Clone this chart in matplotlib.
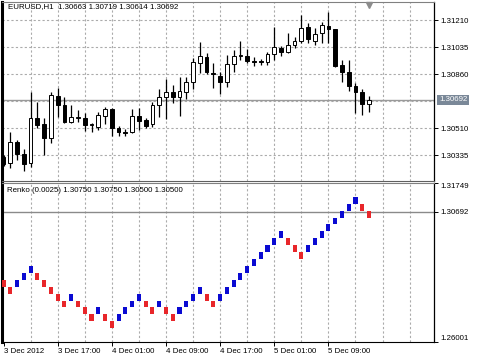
import matplotlib
matplotlib.use('Agg')
import matplotlib.pyplot as plt
import matplotlib.transforms as mtransforms

plt.rcParams['font.family'] = ['Liberation Sans', 'DejaVu Sans']

# EURUSD H1 candles, 3 Dec 09:00 .. 5 Dec 15:00
opens = [1.30322, 1.30283, 1.30419, 1.30342, 1.30283, 1.30575, 1.30536, 1.30445,
         1.30717, 1.30659, 1.30549, 1.30578, 1.30575, 1.30529, 1.30517, 1.30588,
         1.30633, 1.30510, 1.30484, 1.30484, 1.30588, 1.30562, 1.30536, 1.30659,
         1.30711, 1.30743, 1.30711, 1.30743, 1.30808, 1.30931, 1.30970, 1.30867,
         1.30847, 1.30808, 1.30925, 1.30977, 1.30977, 1.30944, 1.30944, 1.30938,
         1.30990, 1.31029, 1.31003, 1.31048, 1.31074, 1.31165, 1.31074, 1.31126,
         1.31171, 1.31152, 1.30918, 1.30873, 1.30782, 1.30743, 1.30663]
highs = [1.30335, 1.30484, 1.30432, 1.30374, 1.30743, 1.30679, 1.30575, 1.30743,
         1.30769, 1.30711, 1.30659, 1.30627, 1.30607, 1.30542, 1.30614, 1.30646,
         1.30640, 1.30523, 1.30504, 1.30633, 1.30640, 1.30575, 1.30679, 1.30763,
         1.30828, 1.30789, 1.30841, 1.30841, 1.30964, 1.31067, 1.30996, 1.30931,
         1.30873, 1.30983, 1.31016, 1.31074, 1.31022, 1.30970, 1.30957, 1.31003,
         1.31165, 1.31041, 1.31126, 1.31100, 1.31242, 1.31191, 1.31158, 1.31197,
         1.31262, 1.31152, 1.30951, 1.30951, 1.30802, 1.30763, 1.30719]
lows = [1.30264, 1.30251, 1.30303, 1.30231, 1.30257, 1.30510, 1.30335, 1.30413,
        1.30581, 1.30545, 1.30545, 1.30549, 1.30491, 1.30484, 1.30497, 1.30536,
        1.30458, 1.30458, 1.30458, 1.30480, 1.30497, 1.30510, 1.30517, 1.30581,
        1.30568, 1.30672, 1.30588, 1.30698, 1.30763, 1.30867, 1.30860, 1.30769,
        1.30730, 1.30776, 1.30873, 1.30951, 1.30931, 1.30912, 1.30918, 1.30918,
        1.30951, 1.30977, 1.30996, 1.31029, 1.31061, 1.31061, 1.31048, 1.31061,
        1.31061, 1.30905, 1.30808, 1.30750, 1.30607, 1.30594, 1.30614]
closes = [1.30277, 1.30419, 1.30342, 1.30277, 1.30575, 1.30529, 1.30445, 1.30724,
          1.30659, 1.30549, 1.30581, 1.30581, 1.30529, 1.30536, 1.30594, 1.30633,
          1.30510, 1.30484, 1.30478, 1.30588, 1.30555, 1.30523, 1.30659, 1.30711,
          1.30743, 1.30711, 1.30750, 1.30808, 1.30938, 1.30977, 1.30873, 1.30860,
          1.30808, 1.30925, 1.30977, 1.30986, 1.30944, 1.30940, 1.30938, 1.30990,
          1.31035, 1.31003, 1.31048, 1.31074, 1.31158, 1.31087, 1.31119, 1.31178,
          1.31152, 1.30912, 1.30873, 1.30782, 1.30743, 1.30663, 1.30692]

# Renko (0.0025) bricks: lower edge of each brick and direction (1 up, 0 down)
brick_size = 0.0025
renko_low = [1.2800, 1.2775, 1.2800, 1.2825, 1.2850, 1.2825, 1.2800, 1.2775,
             1.2750, 1.2725, 1.2750, 1.2725, 1.2700, 1.2675, 1.2700, 1.2675,
             1.2650, 1.2675, 1.2700, 1.2725, 1.2750, 1.2725, 1.2700, 1.2725,
             1.2700, 1.2675, 1.2700, 1.2725, 1.2750, 1.2775, 1.2750, 1.2725,
             1.2750, 1.2775, 1.2800, 1.2825, 1.2850, 1.2875, 1.2900, 1.2925,
             1.2950, 1.2975, 1.2950, 1.2925, 1.2900, 1.2925, 1.2950, 1.2975,
             1.3000, 1.3025, 1.3050, 1.3075, 1.3100, 1.3075, 1.3050]
renko_up = [0, 0, 1, 1, 1, 0, 0, 0, 0, 0, 1, 0, 0, 0, 1, 0, 0, 1, 1, 1, 1, 0,
            0, 1, 0, 0, 1, 1, 1, 1, 0, 0, 1, 1, 1, 1, 1, 1, 1, 1, 1, 1, 0, 0,
            0, 1, 1, 1, 1, 1, 1, 1, 1, 0, 0]

bid = 1.30692
price_ticks = [1.30335, 1.30510, 1.30685, 1.30860, 1.31035, 1.31210]
renko_ticks = [1.31749, 1.30692, 1.26001]
time_labels = ['3 Dec 2012', '3 Dec 17:00', '4 Dec 01:00', '4 Dec 09:00',
               '4 Dec 17:00', '5 Dec 01:00', '5 Dec 09:00']

grid_kw = dict(color='#ababab', linestyle=(0, (2, 2)), linewidth=0.8, zorder=0)
font_size = 5.7

fig = plt.figure(figsize=(4.8, 3.6), dpi=100)
ax1 = fig.add_axes([1.5 / 480, 1 - 181 / 360, 432.5 / 480, 179 / 360])
ax2 = fig.add_axes([1.5 / 480, 1 - 342 / 360, 432.5 / 480, 159 / 360])

n = len(closes)
xs = list(range(n))
for ax in (ax1, ax2):
    ax.set_xlim(-0.3, 63.6)
    for gx in range(4, 64, 4):
        ax.axvline(gx, **grid_kw)
    ax.spines['left'].set_linewidth(2.2)
    ax.spines['left'].set_color('black')
    ax.spines['right'].set_linewidth(0.9)
    ax.spines['top'].set_color('#808080')
    ax.yaxis.tick_right()
    ax.tick_params(axis='y', direction='out', length=3, width=0.7, pad=1.5,
                   labelsize=font_size)

# ---- price panel ----
ax1.set_ylim(1.30167, 1.31327)
for gy in price_ticks:
    ax1.axhline(gy, **grid_kw)
ax1.axhline(bid, color='#9a9a9a', linewidth=1, zorder=1)
ax1.spines['bottom'].set_color('#606060')

ax1.vlines(xs, lows, highs, color='black', linewidth=0.9, zorder=2)
body_low = [min(o, c) for o, c in zip(opens, closes)]
body_h = [max(abs(c - o), 0.00001) for o, c in zip(opens, closes)]
body_col = ['white' if c >= o else 'black' for o, c in zip(opens, closes)]
ax1.bar(xs, body_h, bottom=body_low, width=0.56, color=body_col,
        edgecolor='black', linewidth=0.7, zorder=3)

ax1.set_yticks([t for t in price_ticks if t != 1.30685])
ax1.set_yticklabels(['%.5f' % t for t in price_ticks if t != 1.30685])
ax1.set_xticks([])
ax1.annotate('%.5f' % bid, xy=(1, bid), xycoords=('axes fraction', 'data'),
             xytext=(5, 0), textcoords='offset pixels', va='center', ha='left',
             fontsize=font_size, color='white', annotation_clip=False,
             bbox=dict(boxstyle='square,pad=0.2', fc='#7a8898', ec='none'))
ax1.text(0.014, 0.972, 'EURUSD,H1  %.5f %.5f %.5f %.5f'
         % (opens[-1], highs[-1], lows[-1], closes[-1]),
         transform=ax1.transAxes, fontsize=font_size, va='center', ha='left')
tri = mtransforms.blended_transform_factory(ax1.transData, ax1.transAxes)
ax1.plot([n - 1], [0.986], marker='v', ms=5, color='#8c8c8c',
         transform=tri, clip_on=False, zorder=5)

# ---- renko panel ----
ax2.set_ylim(1.26001, 1.31749)
ax2.axhline(bid, color='#8a8a8a', linewidth=1, zorder=1)
brick_col = ['#0a0ad2' if u else '#e8262a' for u in renko_up]
ax2.bar(xs, [brick_size] * n, bottom=renko_low, width=0.6, color=brick_col,
        linewidth=0, zorder=3)
ax2.set_yticks(renko_ticks)
ax2.set_yticklabels([])
for t, va in zip(renko_ticks, ['top', 'center', 'bottom']):
    ax2.annotate('%.5f' % t, xy=(1, t), xycoords=('axes fraction', 'data'),
                 xytext=(6, 0), textcoords='offset pixels', va=va, ha='left',
                 fontsize=font_size, annotation_clip=False)
ax2.text(0.012, 0.95, 'Renko (0.0025) %.5f %.5f %.5f %.5f'
         % (renko_low[-1] + brick_size, renko_low[-1] + brick_size,
            renko_low[-1], renko_low[-1]),
         transform=ax2.transAxes, fontsize=font_size, va='center', ha='left')

ax2.set_xticks(range(0, n, 8))
ax2.set_xticklabels(time_labels, ha='left')
ax2.tick_params(axis='x', direction='out', length=3, width=0.7, pad=1.5,
                labelsize=font_size)

fig.savefig('out.png', dpi=100)
